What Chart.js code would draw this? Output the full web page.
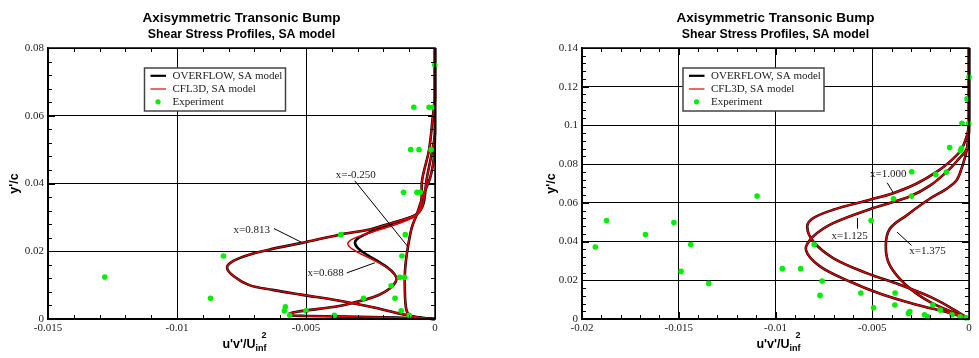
<!DOCTYPE html>
<html>
<head>
<meta charset="utf-8">
<script src="https://cdn.jsdelivr.net/npm/chart.js@4.4.0/dist/chart.umd.min.js"></script>
<style>
  html, body { margin: 0; padding: 0; background: #fff; }
  #c1 { position: absolute; left: 0; top: 0; }
  #c2 { position: absolute; left: 490px; top: 0; }
</style>
</head>
<body>
<canvas id="c1" width="490" height="358"></canvas>
<canvas id="c2" width="489" height="358"></canvas>
<script>
// ---- left chart: x = -0.250, 0.688, 0.813 ----
const leftXm0250 = [[0,0],[-0.0005,0.0003],[-0.00098,0.0010],[-0.0011,0.0025],[-0.00115,0.005],[-0.00117,0.009],[-0.00117,0.013],[-0.00113,0.017],[-0.00104,0.0217],[-0.0009,0.027],[-0.0007,0.031],[-0.00046,0.0365],[-0.0002,0.0414],[-0.00007,0.046],[-0.00002,0.05],[0,0.055],[0,0.08]];
const leftX0813 = [[0,0],[-0.0006,0.0004],[-0.0013,0.0015],[-0.0025,0.0036],[-0.0037,0.0054],[-0.0052,0.0072],[-0.0063,0.0086],[-0.0072,0.0100],[-0.0078,0.0126],[-0.00806,0.0152],[-0.0078,0.0172],[-0.0072,0.0190],[-0.0063,0.0207],[-0.0052,0.0224],[-0.0037,0.0249],[-0.0025,0.0265],[-0.0017,0.0283],[-0.0009,0.0302],[-0.0006,0.0318],[-0.00052,0.0352],[-0.0005,0.041],[-0.00023,0.050],[-0.00008,0.060],[0,0.065],[0,0.08]];
const leftX0688Ovf = [[0,0],[-0.0015,0.0004],[-0.0035,0.0007],[-0.0050,0.0009],[-0.0056,0.0011],[-0.00565,0.0016],[-0.0053,0.0022],[-0.0045,0.0030],[-0.0036,0.0040],[-0.0028,0.0055],[-0.0022,0.0070],[-0.00175,0.0090],[-0.00152,0.0110],[-0.0015,0.0123],[-0.0017,0.0143],[-0.0021,0.0165],[-0.0026,0.0188],[-0.0030,0.0210],[-0.0031,0.0227],[-0.00295,0.0240],[-0.0025,0.0257],[-0.0019,0.0275],[-0.0012,0.0293],[-0.0007,0.0310],[-0.00045,0.034],[-0.00033,0.041],[-0.0001,0.050],[0,0.055],[0,0.08]];
const leftX0688Cfl = [[0,0],[-0.0015,0.0004],[-0.0035,0.0007],[-0.0050,0.0009],[-0.0056,0.0011],[-0.00565,0.0016],[-0.0053,0.0022],[-0.0045,0.0030],[-0.0036,0.0040],[-0.0028,0.0055],[-0.0022,0.0070],[-0.00175,0.0090],[-0.00152,0.0110],[-0.0015,0.0123],[-0.0017,0.0143],[-0.0021,0.0163],[-0.0027,0.0186],[-0.0032,0.0206],[-0.00338,0.0222],[-0.0032,0.0236],[-0.0027,0.0250],[-0.0020,0.0267],[-0.0013,0.0285],[-0.0008,0.0302],[-0.0005,0.033],[-0.00033,0.041],[-0.0001,0.050],[0,0.055],[0,0.08]];
const leftExp = [[-0.0128,0.0124],[-0.0087,0.0061],[-0.0082,0.0186],[-0.0058,0.0036],[-0.00584,0.0024],[-0.00563,0.0011],[-0.0050,0.0024],[-0.0039,0.0011],[-0.00365,0.0249],[-0.00277,0.0061],[-0.0017,0.0098],[-0.00155,0.0061],[-0.00137,0.0123],[-0.00118,0.0123],[-0.00128,0.0186],[-0.00131,0.0024],[-0.0010,0.0011],[-0.00115,0.0249],[-0.00122,0.0374],[-0.0007,0.0374],[-0.00057,0.0374],[-0.00094,0.050],[-0.00062,0.050],[-0.00015,0.050],[-0.00082,0.0625],[-0.00023,0.0625],[-0.00008,0.0625],[-0.00001,0.075]];
const leftLabels = [
  { text: 'x=-0.250', at: [-0.00307, 0.0426], from: [-0.00311, 0.0408], to: [-0.00104, 0.02125] },
  { text: 'x=0.813', at: [-0.0071, 0.0261], from: [-0.00624, 0.0267], to: [-0.00519, 0.0227] },
  { text: 'x=0.688', at: [-0.00424, 0.0136], from: [-0.00342, 0.0136], to: [-0.00233, 0.0166] }
];

// ---- right chart: x = 1.000, 1.125, 1.375 ----
const rightX1000 = [[0,0],[-0.00048,0.0031],[-0.00186,0.0108],[-0.00358,0.0177],[-0.00529,0.0237],[-0.00702,0.0315],[-0.00805,0.0401],[-0.00836,0.0478],[-0.00805,0.0521],[-0.00702,0.0564],[-0.00512,0.0616],[-0.00392,0.065],[-0.0027,0.070],[-0.0016,0.0765],[-0.0008,0.083],[-0.0004,0.0875],[-0.0001,0.095],[0,0.101],[0,0.14]];
const rightX1125 = [[0,0],[-0.001,0.0031],[-0.00271,0.0074],[-0.00444,0.0125],[-0.00616,0.0194],[-0.0077,0.0272],[-0.00843,0.0358],[-0.00805,0.0426],[-0.00702,0.0495],[-0.00495,0.0573],[-0.00306,0.0633],[-0.002,0.069],[-0.0011,0.0765],[-0.0005,0.083],[-0.00013,0.0875],[-0.00003,0.093],[0,0.1],[0,0.14]];
const rightX1375 = [[0,0],[-0.00065,0.0027],[-0.00203,0.0088],[-0.00323,0.0173],[-0.00409,0.0277],[-0.0043,0.0375],[-0.00409,0.0466],[-0.00323,0.0535],[-0.00203,0.0621],[-0.0012,0.067],[-0.00065,0.0715],[-0.00035,0.0788],[-0.0001,0.088],[0,0.097],[0,0.14]];
const rightExp = [[-0.01931,0.0372],[-0.01873,0.0509],[-0.01672,0.0436],[-0.01525,0.0498],[-0.01488,0.0246],[-0.01438,0.0385],[-0.01345,0.0184],[-0.01095,0.0635],[-0.00965,0.0260],[-0.0087,0.0260],[-0.0080,0.0385],[-0.00759,0.0196],[-0.0077,0.0122],[-0.00559,0.0134],[-0.00506,0.0509],[-0.00493,0.0058],[-0.0039,0.0621],[-0.00297,0.0635],[-0.00382,0.0134],[-0.00383,0.0072],[-0.00313,0.0029],[-0.00306,0.0039],[-0.0023,0.0022],[-0.00213,0.0012],[-0.00187,0.0072],[-0.00148,0.0046],[-0.00088,0.0022],[-0.00046,0.0012],[-0.00015,0.0006],[-0.00296,0.0761],[-0.00172,0.0747],[-0.00117,0.0759],[-0.0010,0.0886],[-0.00044,0.0870],[-0.00039,0.0882],[-0.00036,0.1011],[-0.00002,0.1011],[-0.0001,0.1137],[0,0.125]];
const rightLabels = [
  { text: 'x=1.000', at: [-0.00417, 0.0748], from: [-0.00423, 0.0704], to: [-0.00392, 0.0654] },
  { text: 'x=1.125', at: [-0.00617, 0.0429], from: [-0.00576, 0.0466], to: [-0.00576, 0.0522] },
  { text: 'x=1.375', at: [-0.00214, 0.0349], from: [-0.00297, 0.0380], to: [-0.00372, 0.0449] }
];

const legendNames = ['OVERFLOW, SA model', 'CFL3D, SA model', 'Experiment'];
const title = 'Axisymmetric Transonic Bump';
const subtitle = 'Shear Stress Profiles, SA model';

const GREEN = '#00ee00';
const SERIF = '"Liberation Serif", "Times New Roman", serif';
const SANS = '"Liberation Sans", Arial, sans-serif';

function toPts(arr) { return arr.map(p => ({ x: p[0], y: p[1] })); }

function fmt(v) {
  if (Math.abs(v) < 1e-12) return '0';
  return String(+v.toFixed(4));
}

// titles, frame, minor ticks, legend, curve labels
const decor = {
  id: 'decor',
  afterDraw(chart, args, o) {
    const ctx = chart.ctx;
    const a = chart.chartArea;
    const xs = chart.scales.x, ys = chart.scales.y;
    const cx = (a.left + a.right) / 2;
    ctx.save();

    // titles
    ctx.fillStyle = '#000';
    ctx.textAlign = 'center';
    ctx.textBaseline = 'middle';
    ctx.font = 'bold 13.5px ' + SANS;
    ctx.fillText(title, cx, 18);
    ctx.font = 'bold 12.3px ' + SANS;
    ctx.fillText(subtitle, cx, 34.5);

    // frame
    ctx.strokeStyle = '#000';
    ctx.lineWidth = 1.5;
    ctx.strokeRect(a.left, a.top, a.right - a.left, a.bottom - a.top);

    // ticks pointing inward on all four sides
    ctx.lineWidth = 1;
    ctx.beginPath();
    for (let i = 0; ; i++) {
      const v = o.xMin + i * o.xMinor;
      if (v > o.xMax + 1e-9) break;
      const px = Math.round(xs.getPixelForValue(v)) + 0.5;
      const len = (i % o.xEvery === 0) ? 7 : 4;
      ctx.moveTo(px, a.bottom); ctx.lineTo(px, a.bottom - len);
      ctx.moveTo(px, a.top); ctx.lineTo(px, a.top + len);
    }
    for (let i = 0; ; i++) {
      const v = o.yMin + i * o.yMinor;
      if (v > o.yMax + 1e-9) break;
      const py = Math.round(ys.getPixelForValue(v)) + 0.5;
      const len = (i % o.yEvery === 0) ? 7 : 4;
      ctx.moveTo(a.left, py); ctx.lineTo(a.left + len, py);
      ctx.moveTo(a.right, py); ctx.lineTo(a.right - len, py);
    }
    ctx.stroke();

    // curve labels with leader lines
    ctx.font = '11px ' + SERIF;
    ctx.fillStyle = '#222';
    ctx.textAlign = 'center';
    ctx.textBaseline = 'middle';
    ctx.lineWidth = 1;
    o.labels.forEach(l => {
      ctx.fillText(l.text, xs.getPixelForValue(l.at[0]), ys.getPixelForValue(l.at[1]));
      ctx.beginPath();
      ctx.moveTo(xs.getPixelForValue(l.from[0]), ys.getPixelForValue(l.from[1]));
      ctx.lineTo(xs.getPixelForValue(l.to[0]), ys.getPixelForValue(l.to[1]));
      ctx.stroke();
    });

    // legend box
    const bx = a.left + o.legendDx, by = a.top + 20, bw = 141, bh = 43;
    ctx.fillStyle = '#fff';
    ctx.fillRect(bx, by, bw, bh);
    ctx.strokeStyle = '#444';
    ctx.lineWidth = 1.5;
    ctx.strokeRect(bx, by, bw, bh);
    const rows = [by + 7.8, by + 21, by + 33.8];
    ctx.lineWidth = 2.2;
    ctx.strokeStyle = '#000';
    ctx.beginPath(); ctx.moveTo(bx + 6, rows[0]); ctx.lineTo(bx + 21.5, rows[0]); ctx.stroke();
    ctx.lineWidth = 1.2;
    ctx.strokeStyle = '#e00000';
    ctx.beginPath(); ctx.moveTo(bx + 6, rows[1]); ctx.lineTo(bx + 21.5, rows[1]); ctx.stroke();
    ctx.fillStyle = GREEN;
    ctx.beginPath(); ctx.arc(bx + 13.5, rows[2], 2.6, 0, Math.PI * 2); ctx.fill();
    ctx.fillStyle = '#222';
    ctx.textAlign = 'left';
    ctx.font = '11px ' + SERIF;
    legendNames.forEach((n, i) => ctx.fillText(n, bx + 28, rows[i]));

    // axis titles
    ctx.fillStyle = '#000';
    ctx.textBaseline = 'alphabetic';
    ctx.font = 'bold 12.5px ' + SANS;
    const main = "u'v'/U";
    const w1 = ctx.measureText(main).width;
    ctx.font = 'bold 9px ' + SANS;
    const w2 = ctx.measureText('inf').width;
    let sx = cx + 3 - (w1 + w2) / 2;
    ctx.font = 'bold 12.5px ' + SANS;
    ctx.fillText(main, sx, 348);
    ctx.font = 'bold 9px ' + SANS;
    ctx.fillText('inf', sx + w1, 351);
    ctx.fillText('2', sx + w1 + w2 - 5, 338);

    ctx.save();
    ctx.translate(a.left - o.yTitleDx, (a.top + a.bottom) / 2);
    ctx.rotate(-Math.PI / 2);
    ctx.textAlign = 'center';
    ctx.textBaseline = 'middle';
    ctx.font = 'bold 12.5px ' + SANS;
    ctx.fillText("y'/c", 0, 0);
    ctx.restore();

    ctx.restore();
  }
};

function makeChart(id, cfg) {
  const curve = (data, color, width, order) => ({
    data: toPts(data), showLine: true, pointRadius: 0, borderColor: color,
    borderWidth: width, tension: 0.35, clip: 4, order: order
  });
  const datasets = [
    { data: toPts(cfg.exp), showLine: false, pointRadius: 2.8, pointStyle: 'circle',
      backgroundColor: GREEN, borderColor: GREEN, borderWidth: 0, clip: 4, order: 0 }
  ];
  cfg.cfl.forEach(d => datasets.push(curve(d, '#dd0000', 1.5, 1)));
  cfg.ovf.forEach(d => datasets.push(curve(d, '#000', 2.6, 2)));

  const tickFont = { family: SERIF, size: 11 };
  return new Chart(document.getElementById(id), {
    type: 'scatter',
    data: { datasets: datasets },
    options: {
      responsive: false,
      animation: false,
      events: [],
      layout: { padding: { top: 48, right: cfg.padRight, left: 0, bottom: 0 } },
      plugins: {
        legend: { display: false },
        tooltip: { enabled: false },
        decor: cfg.decor
      },
      scales: {
        x: {
          type: 'linear', min: cfg.xMin, max: 0,
          ticks: { stepSize: 0.005, callback: fmt, font: tickFont, color: '#222', padding: 3, maxRotation: 0 },
          grid: { color: '#000', lineWidth: 1, drawTicks: false },
          border: { color: '#000', width: 1.5 },
          afterFit(s) { s.height = 39; }
        },
        y: {
          type: 'linear', min: 0, max: cfg.yMax,
          ticks: { stepSize: 0.02, callback: fmt, font: tickFont, color: '#222', padding: 4 },
          grid: { color: '#000', lineWidth: 1, drawTicks: false },
          border: { color: '#000', width: 1.5 },
          afterFit(s) { s.width = cfg.yWidth; }
        }
      }
    },
    plugins: [decor]
  });
}

makeChart('c1', {
  exp: leftExp,
  cfl: [leftXm0250, leftX0813, leftX0688Cfl],
  ovf: [leftXm0250, leftX0813, leftX0688Ovf],
  xMin: -0.015, yMax: 0.08, yWidth: 48, padRight: 55,
  decor: { labels: leftLabels, xMin: -0.015, xMax: 0, xMinor: 0.001, xEvery: 5,
           yMin: 0, yMax: 0.08, yMinor: 0.004, yEvery: 5, legendDx: 96.5, yTitleDx: 33 }
});

makeChart('c2', {
  exp: rightExp,
  cfl: [rightX1000, rightX1125, rightX1375],
  ovf: [rightX1000, rightX1125, rightX1375],
  xMin: -0.02, yMax: 0.14, yWidth: 92, padRight: 10,
  decor: { labels: rightLabels, xMin: -0.02, xMax: 0, xMinor: 0.001, xEvery: 5,
           yMin: 0, yMax: 0.14, yMinor: 0.004, yEvery: 5, legendDx: 101, yTitleDx: 30 }
});
</script>
</body>
</html>
